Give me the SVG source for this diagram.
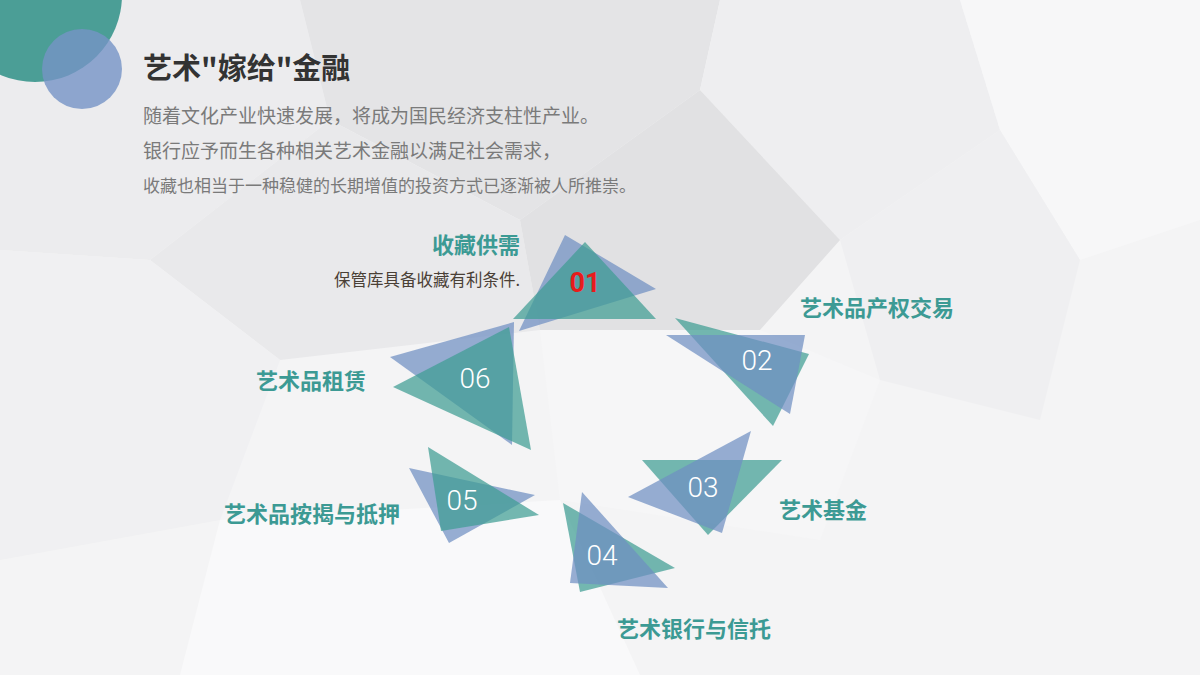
<svg xmlns="http://www.w3.org/2000/svg" width="1200" height="675" viewBox="0 0 1200 675">
<style>
.b{fill:#6f8fc2;fill-opacity:0.72}
.t{fill:#3f9d93;fill-opacity:0.72}
.n{font-family:Roboto,"Liberation Sans",sans-serif;font-weight:300;font-size:28px;fill:#fff;text-anchor:middle}
.h{font-family:"Noto Sans CJK SC",sans-serif;font-size:22px;font-weight:bold;fill:#3c9a94}
.p{font-family:"Noto Sans CJK SC",sans-serif;font-size:19px;fill:#7a7a7a}
</style>
<rect width="1200" height="675" fill="#f4f4f5"/>
<g id="bg">
<polygon points="0,0 300,0 330,120 150,260 0,250" fill="#ececee"/>
<polygon points="300,0 720,0 700,90 520,220 330,120" fill="#e4e4e6"/>
<polygon points="720,0 960,0 1000,130 840,240 700,90" fill="#eeeef0"/>
<polygon points="960,0 1200,0 1200,220 1080,260 1000,130" fill="#f7f7f8"/>
<polygon points="150,260 330,120 520,220 540,330 280,360" fill="#e9e9eb"/>
<polygon points="520,220 700,90 840,240 760,330 540,330" fill="#e1e1e3"/>
<polygon points="840,240 1000,130 1080,260 1040,420 880,380" fill="#efeff1"/>
<polygon points="0,250 150,260 280,360 220,520 0,560" fill="#f0f0f2"/>
<polygon points="540,330 760,330 880,380 820,540 560,500" fill="#f6f6f7"/>
<polygon points="220,520 560,500 640,675 180,675" fill="#f9f9fa"/>
</g>
<g id="deco">
<circle cx="35" cy="-5" r="87" fill="#4b9e96"/>
<circle cx="82" cy="69" r="40" fill="#7694c6" fill-opacity="0.8"/>
</g>
<g id="title">
<text x="143" y="79" font-family="Noto Sans CJK SC,sans-serif" font-size="29" font-weight="bold" fill="#333">艺术"嫁给"金融</text>
<text x="143" y="123" class="p">随着文化产业快速发展，将成为国民经济支柱性产业。</text>
<text x="143" y="158" class="p">银行应予而生各种相关艺术金融以满足社会需求，</text>
<text x="143" y="192" class="p" style="font-size:17px">收藏也相当于一种稳健的长期增值的投资方式已逐渐被人所推崇。</text>
</g>
<g id="n01">
<polygon class="b" points="565,235 656,289 519,331"/>
<polygon class="t" points="585,242 656,319 513,319"/>
<text x="585" y="292" font-family="Roboto,'Liberation Sans',sans-serif" font-size="27" font-weight="bold" fill="#e81c1c" text-anchor="middle">01</text>
<text x="520" y="253" class="h" text-anchor="end">收藏供需</text>
<text x="520" y="286" font-family="Noto Sans CJK SC,sans-serif" font-size="16.5" fill="#4a4036" text-anchor="end">保管库具备收藏有利条件.</text>
</g>
<g id="n02">
<polygon class="t" points="675,318 809,354 773,426"/>
<polygon class="b" points="666,335 805,335 790,414"/>
<text x="757" y="370" class="n">02</text>
<text x="800" y="316" class="h">艺术品产权交易</text>
</g>
<g id="n03">
<polygon class="t" points="642,460 782,460 708,535"/>
<polygon class="b" points="628,497 751,431 722,533"/>
<text x="703" y="497" class="n">03</text>
<text x="779" y="518" class="h">艺术基金</text>
</g>
<g id="n04">
<polygon class="t" points="563,503 675,568 580,592"/>
<polygon class="b" points="582,492 668,588 570,583"/>
<text x="602" y="565" class="n">04</text>
<text x="617" y="637" class="h">艺术银行与信托</text>
</g>
<g id="n05">
<polygon class="b" points="409,468 535,495 449,543"/>
<polygon class="t" points="428,447 539,515 441,531"/>
<text x="462" y="510" class="n">05</text>
<text x="400" y="522" class="h" text-anchor="end">艺术品按揭与抵押</text>
</g>
<g id="n06">
<polygon class="b" points="390,357 514,322 512,445"/>
<polygon class="t" points="393,387 509,327 531,450"/>
<text x="475" y="388" class="n">06</text>
<text x="366" y="389" class="h" text-anchor="end">艺术品租赁</text>
</g>
<g id="connectors"/>
</svg>
